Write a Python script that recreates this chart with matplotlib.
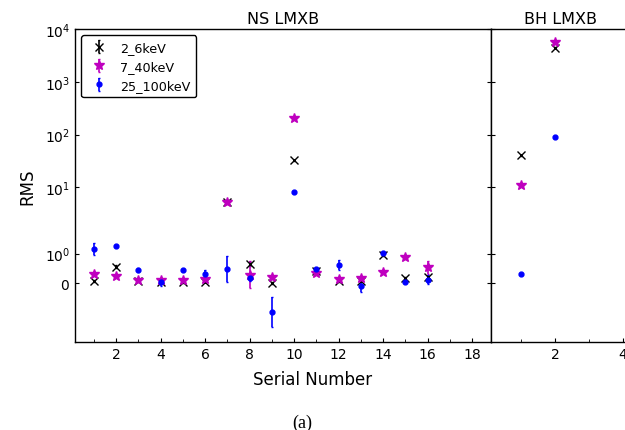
import matplotlib
matplotlib.use("Agg")
import matplotlib.pyplot as plt
from matplotlib.ticker import MultipleLocator, FixedLocator, NullLocator

# NS LMXB sample
ns_serial = [1, 2, 3, 4, 5, 6, 7, 8, 9, 10, 11, 12, 13, 14, 15, 16]
ns_rms_2_6 = [0.06, 0.55, 0.08, 0.03, 0.03, 0.05, 5.3, 0.65, 0.0, 32.5, 0.41, 0.08, 0.08, 0.97, 0.17, 0.19]
ns_err_2_6 = [0.03, 0.05, 0.03, 0.03, 0.03, 0.03, 0.3, 0.06, 0.03, 1.0, 0.03, 0.03, 0.03, 0.05, 0.04, 0.04]
ns_rms_7_40 = [0.31, 0.25, 0.11, 0.09, 0.09, 0.14, 5.3, 0.29, 0.19, 204.0, 0.34, 0.14, 0.17, 0.38, 0.89, 0.54]
ns_err_7_40 = [0.05, 0.04, 0.05, 0.05, 0.05, 0.06, 0.4, 0.46, 0.04, 5.0, 0.04, 0.05, 0.05, 0.04, 0.08, 0.22]
ns_rms_25_100 = [1.16, 1.25, 0.45, 0.03, 0.44, 0.31, 0.49, 0.17, -0.99, 8.06, 0.48, 0.62, -0.09, 1.02, 0.03, 0.11]
ns_err_25_100 = [0.2, 0.03, 0.06, 0.14, 0.03, 0.13, 0.44, 0.1, 0.52, 0.2, 0.04, 0.18, 0.2, 0.05, 0.03, 0.16]

# BH LMXB sample
bh_serial = [1, 2]
bh_rms_2_6 = [40.4, 4420.0]
bh_err_2_6 = [1.0, 60.0]
bh_rms_7_40 = [11.0, 5640.0]
bh_err_7_40 = [0.4, 80.0]
bh_rms_25_100 = [0.32, 90.6]
bh_err_25_100 = [0.03, 1.5]

band_labels = ["2_6keV", "7_40keV", "25_100keV"]
y_ticks = [0, 1, 10, 100, 1000, 10000]

W, H = 625, 431
fig = plt.figure(figsize=(W / 100, H / 100), dpi=100)

def px_axes(x0, x1, y0, y1):
    return fig.add_axes([x0 / W, 1 - y1 / H, (x1 - x0) / W, (y1 - y0) / H])

ax_ns = px_axes(75, 491, 30, 342.7)
ax_bh = px_axes(491, 631, 30, 342.7)

styles = [
    dict(fmt="x", color="k", ms=6, mew=1.0),
    dict(fmt="*", color="m", ms=7, mew=1.0),
    dict(fmt=".", color="b", ms=7, mew=1.0),
]

def draw(ax, xs, series, errors, with_labels):
    for (ys, es), st, lab in zip(zip(series, errors), styles, band_labels):
        ax.errorbar(xs, ys, yerr=es, fmt=st["fmt"], color=st["color"],
                    ecolor=st["color"], ms=st["ms"], mew=st["mew"],
                    elinewidth=1.2, capsize=1,
                    label=lab if with_labels else None)

draw(ax_ns, ns_serial,
     [ns_rms_2_6, ns_rms_7_40, ns_rms_25_100],
     [ns_err_2_6, ns_err_7_40, ns_err_25_100], True)
draw(ax_bh, bh_serial,
     [bh_rms_2_6, bh_rms_7_40, bh_rms_25_100],
     [bh_err_2_6, bh_err_7_40, bh_err_25_100], False)

for ax in (ax_ns, ax_bh):
    ax.set_yscale("symlog", linthresh=2, linscale=1)
    ax.set_ylim(-2, 1e4)
    ax.yaxis.set_major_locator(FixedLocator(y_ticks))
    ax.yaxis.set_minor_locator(NullLocator())
    ax.xaxis.set_major_locator(MultipleLocator(2))
    ax.xaxis.set_minor_locator(MultipleLocator(1))
    ax.tick_params(which="both", direction="in", left=True, right=True,
                   top=False, bottom=True, labelsize=10)
    ax.tick_params(which="major", length=3)
    ax.tick_params(which="minor", length=2)
    for sp in ax.spines.values():
        sp.set_linewidth(1.0)

ax_ns.set_xlim(0.15, 18.85)
ax_bh.set_xlim(0.12, 4.24)
ax_bh.tick_params(labelleft=False)

ax_ns.set_title("NS LMXB", fontsize=11.5, pad=4)
ax_bh.set_title("BH LMXB", fontsize=11.5, pad=4)
ax_ns.set_ylabel("RMS", fontsize=12, labelpad=6)

leg = ax_ns.legend(loc="upper left", fontsize=9.2, frameon=True,
                   handletextpad=0.8, borderpad=0.45, labelspacing=0.45,
                   handlelength=1.8)
leg.get_frame().set_edgecolor("black")
leg.get_frame().set_linewidth(1.0)
leg.get_frame().set_alpha(1.0)

fig.text(0.5, 1 - 380 / H, "Serial Number", ha="center", va="center", fontsize=12)
fig.text(302 / W, 1 - 423 / H, "(a)", ha="center", va="center", fontsize=13,
         family="Liberation Serif")

fig.savefig("out.png", dpi=100)
